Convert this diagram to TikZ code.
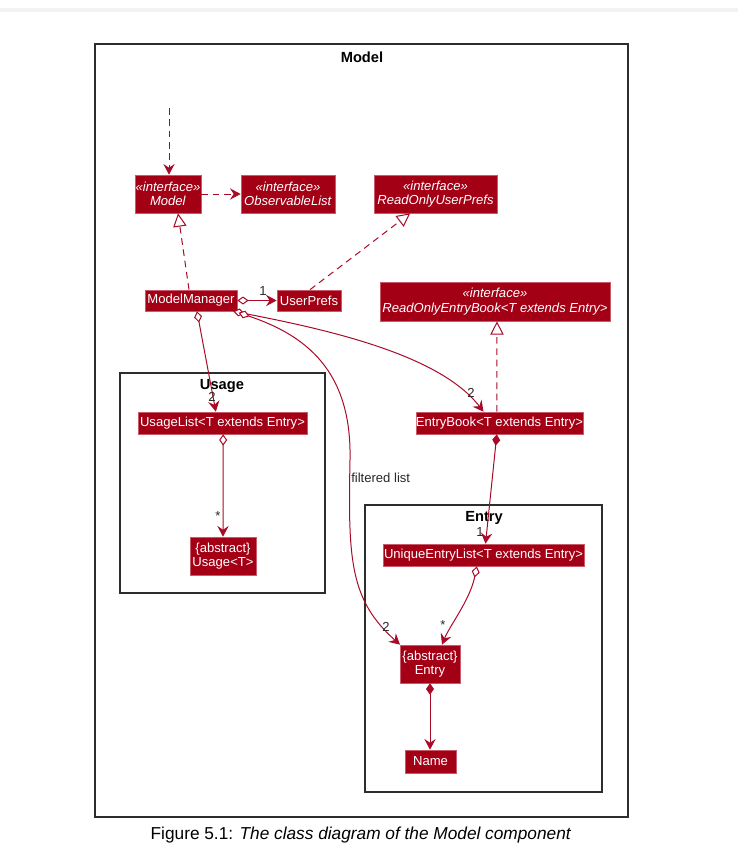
\documentclass[tikz,border=0pt]{standalone}
\usepackage{fontspec}
\setmainfont{Liberation Sans}
\usetikzlibrary{arrows.meta,calc}
\definecolor{umlred}{RGB}{163,0,22}
\definecolor{umlborder}{RGB}{200,90,105}
\definecolor{umlline}{RGB}{168,10,40}
\definecolor{pkgline}{RGB}{45,45,45}
\definecolor{labelgray}{RGB}{40,40,40}
\tikzset{
  cls/.style={fill=umlred, draw=umlborder, line width=0.5pt, text=white, font=\fontsize{9.8}{10.8}\selectfont, inner sep=0pt, align=center},
  pkg/.style={draw=pkgline, line width=1.1pt},
  pkgtitle/.style={font=\fontsize{11}{12}\selectfont\bfseries, text=black},
  rel/.style={draw=umlline, line width=0.75pt},
  dep/.style={rel, dashed, dash pattern=on 5pt off 3.5pt},
  opentip/.style={-{Stealth[length=8pt,width=8.5pt,inset=2.8pt]}},
  realiz/.style={-{Triangle[open,length=10pt,width=10pt,fill=white]}},
  agg/.style={{Diamond[open,length=8.5pt,width=6pt,fill=white]}-{Stealth[length=8pt,width=8.5pt,inset=2.8pt]}},
  comp/.style={{Diamond[length=8.5pt,width=6pt]}-{Stealth[length=8pt,width=8.5pt,inset=2.8pt]}},
  mult/.style={font=\fontsize{9.8}{10}\selectfont, text=labelgray, inner sep=0pt},
}
\begin{document}
\begin{tikzpicture}[x=0.75pt,y=-0.75pt]
\useasboundingbox (0,0) rectangle (738,865);
\fill[gray!10] (0,8) rectangle (738,12);

% packages
\draw[pkg] (95,44) rectangle (628,817);
\node[pkgtitle] (tModel) at (362,57) {Model};
\draw[pkg] (120,373) rectangle (325,593);
\node[pkgtitle] (tUsage) at (222,386) {Usage};
\draw[pkg] (365,505) rectangle (602,792);
\node[pkgtitle] (tEntry) at (484,518) {Entry};

% classes
\node[cls, minimum width=49.5pt, minimum height=28.5pt] (model) at (168,194) {\textit{«interface»}\\\textit{Model}};
\node[cls, minimum width=70.5pt, minimum height=28.5pt] (obs) at (288,194) {\textit{«interface»}\\\textit{ObservableList}};
\node[cls, minimum width=92.25pt, minimum height=28.5pt] (roup) at (435.5,194) {\textit{«interface»}\\\textit{ReadOnlyUserPrefs}};
\node[cls, minimum width=69pt, minimum height=15.75pt] (mm) at (191,300.5) {ModelManager};
\node[cls, minimum width=48pt, minimum height=15.75pt] (up) at (309,300.5) {UserPrefs};
\node[cls, minimum width=172.5pt, minimum height=29.25pt] (roeb) at (495,301.5) {\textit{«interface»}\\\textit{ReadOnlyEntryBook<T extends Entry>}};
\node[cls, minimum width=126.75pt, minimum height=16.5pt] (ul) at (222.5,423) {UsageList<T extends Entry>};
\node[cls, minimum width=49.5pt, minimum height=28.5pt] (usage) at (223,556) {\{abstract\}\\Usage<T>};
\node[cls, minimum width=125.25pt, minimum height=16.5pt] (eb) at (499.5,423) {EntryBook<T extends Entry>};
\node[cls, minimum width=150.75pt, minimum height=16.5pt] (uel) at (483.5,555) {UniqueEntryList<T extends Entry>};
\node[cls, minimum width=45pt, minimum height=28.5pt] (entry) at (430,664) {\{abstract\}\\Entry};
\node[cls, minimum width=38.25pt, minimum height=17.25pt] (name) at (430.5,761.5) {Name};

% connectors
\coordinate (top) at (169,108);
\draw[dep, opentip] (top) -- ([xshift=0.75pt]model.north);
\draw[dep, opentip] (model.east) -- (obs.west);
\draw[dep, realiz] ([xshift=-1.5pt]mm.north) -- ([xshift=7.5pt]model.south);
\draw[dep, realiz] ([xshift=0.75pt]up.north) -- ([xshift=-19pt]roup.south);
\draw[rel, agg] (mm.east) -- (up.west);
\node[mult] (m1) at (263,291) {1};
\draw[rel, agg] ([xshift=4.5pt]mm.south) -- ([xshift=-5pt]ul.north);
\node[mult] (m2) at (212,397) {2};
\draw[rel, agg] ([xshift=-3pt]mm.south east) .. controls (330,330) and (440,355) .. ([xshift=-12pt]eb.north);
\node[mult] (m3) at (471,393) {2};
\draw[rel, agg] ([xshift=1pt,yshift=-1pt]mm.south east) .. controls (305,335) and (352,370) .. (350,460) .. controls (348,560) and (350,600) .. ([xshift=-22.5pt]entry.north);
\node[mult, anchor=west] (fl) at (351,478) {filtered list};
\node[mult] (m4) at (386,627) {2};
\draw[dep, realiz] ([xshift=-2pt]eb.north) -- ([xshift=1.5pt]roeb.south);
\draw[rel, comp] ([xshift=-2pt]eb.south) -- ([xshift=1.5pt]uel.north);
\node[mult] (m5) at (480,532) {1};
\draw[rel, agg] ([xshift=0.5pt]ul.south) -- (usage.north);
\node[mult] (m6) at (218,516) {*};
\draw[rel, agg] ([xshift=-5pt]uel.south) .. controls (470,600) and (450,625) .. ([xshift=9pt]entry.north);
\node[mult] (m7) at (443,625) {*};
\draw[rel, comp] (entry.south) -- (entry.south |- name.north);

% caption
\node[font=\fontsize{12.95}{14}\selectfont, text=black] (cap) at (361,835) {Figure 5.1: \textit{The class diagram of the Model component}};
\end{tikzpicture}
\end{document}
